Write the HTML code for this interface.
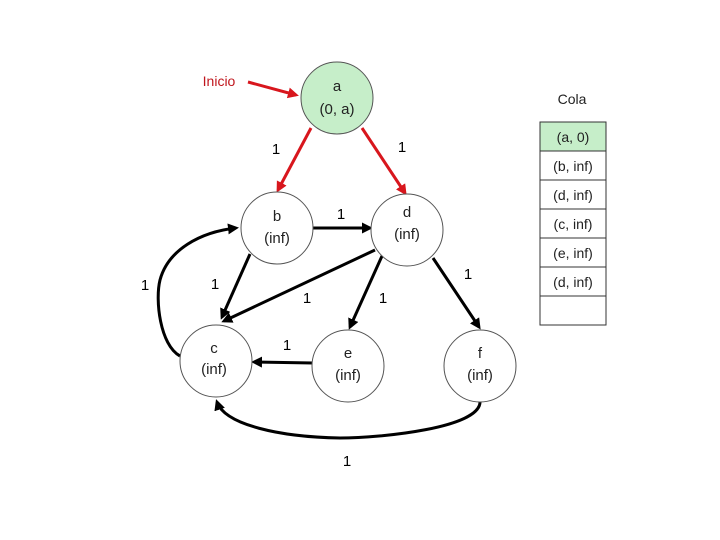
<!DOCTYPE html>
<html><head><meta charset="utf-8"><style>
body{margin:0;background:#fff}
svg{display:block}
text{font-family:"Liberation Sans","DejaVu Sans",sans-serif}
</style></head><body>
<svg width="720" height="540" viewBox="0 0 720 540" xmlns="http://www.w3.org/2000/svg">
<defs>
<marker id="k" markerWidth="11" markerHeight="11" refX="8" refY="5.5" orient="auto" markerUnits="userSpaceOnUse"><path d="M0,0 L11,5.5 L0,11 Z" fill="#000"/></marker>
<marker id="r" markerWidth="11" markerHeight="11" refX="8" refY="5.5" orient="auto" markerUnits="userSpaceOnUse"><path d="M0,0 L11,5.5 L0,11 Z" fill="#d8161d"/></marker>
</defs>
<g stroke="#d8161d" stroke-width="3" fill="none">
<line x1="248" y1="82" x2="296" y2="95" marker-end="url(#r)"/>
<line x1="311" y1="128" x2="278" y2="190" marker-end="url(#r)"/>
<line x1="362" y1="128" x2="405" y2="193" marker-end="url(#r)"/>
</g>
<g stroke="#000" stroke-width="3" fill="none">
<line x1="313" y1="228" x2="370" y2="228" marker-end="url(#k)"/>
<line x1="250" y1="254" x2="222" y2="317" marker-end="url(#k)"/>
<line x1="375" y1="250" x2="224" y2="321" marker-end="url(#k)"/>
<line x1="382" y1="256" x2="350" y2="327" marker-end="url(#k)"/>
<line x1="433" y1="258" x2="479" y2="327" marker-end="url(#k)"/>
<line x1="313" y1="363" x2="254" y2="362" marker-end="url(#k)"/>
<path d="M180,356 C160,345 155,300 160,280 C168,250 200,232 236,228" marker-end="url(#k)"/>
<path d="M480,401 C482,428 380,438 340,438 C280,437 225,425 217,402" marker-end="url(#k)"/>
</g>
<g stroke="#555" stroke-width="1">
<circle cx="337" cy="98" r="36" fill="#c6eec9"/>
<circle cx="277" cy="228" r="36" fill="#fff"/>
<circle cx="407" cy="230" r="36" fill="#fff"/>
<circle cx="216" cy="361" r="36" fill="#fff"/>
<circle cx="348" cy="366" r="36" fill="#fff"/>
<circle cx="480" cy="366" r="36" fill="#fff"/>
</g>
<g font-size="15" fill="#222" text-anchor="middle">
<text x="337" y="91">a</text><text x="337" y="114">(0, a)</text>
<text x="277" y="221">b</text><text x="277" y="243">(inf)</text>
<text x="407" y="217">d</text><text x="407" y="239">(inf)</text>
<text x="214" y="353">c</text><text x="214" y="374">(inf)</text>
<text x="348" y="358">e</text><text x="348" y="380">(inf)</text>
<text x="480" y="358">f</text><text x="480" y="380">(inf)</text>
</g>
<text x="219" y="86" font-size="14" fill="#c0161d" text-anchor="middle">Inicio</text>
<g font-size="15" fill="#000" text-anchor="middle">
<text x="276" y="154">1</text><text x="402" y="152">1</text><text x="341" y="219">1</text>
<text x="145" y="290">1</text><text x="215" y="289">1</text><text x="307" y="303">1</text>
<text x="383" y="303">1</text><text x="468" y="279">1</text><text x="287" y="350">1</text>
<text x="347" y="466">1</text>
</g>
<text x="572" y="104" font-size="14" fill="#222" text-anchor="middle">Cola</text>
<g stroke="#333" stroke-width="1">
<rect x="540" y="122" width="66" height="29" fill="#c6eec9"/>
<rect x="540" y="151" width="66" height="29" fill="#fff"/>
<rect x="540" y="180" width="66" height="29" fill="#fff"/>
<rect x="540" y="209" width="66" height="29" fill="#fff"/>
<rect x="540" y="238" width="66" height="29" fill="#fff"/>
<rect x="540" y="267" width="66" height="29" fill="#fff"/>
<rect x="540" y="296" width="66" height="29" fill="#fff"/>
</g>
<g font-size="14" fill="#222" text-anchor="middle">
<text x="573" y="142">(a, 0)</text>
<text x="573" y="171">(b, inf)</text>
<text x="573" y="200">(d, inf)</text>
<text x="573" y="229">(c, inf)</text>
<text x="573" y="258">(e, inf)</text>
<text x="573" y="287">(d, inf)</text>
</g>
</svg>
</body></html>
